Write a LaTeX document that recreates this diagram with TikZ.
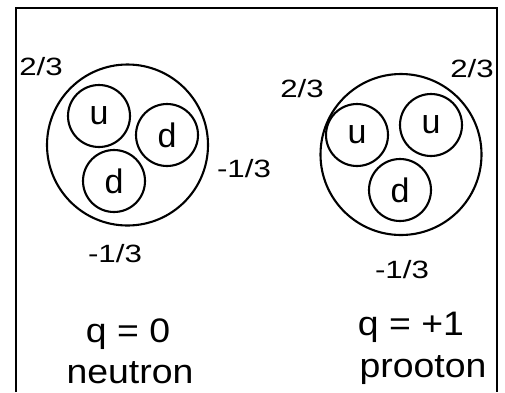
\documentclass[tikz,border=0pt]{standalone}
\usepackage{fontspec}
\setmainfont{Liberation Sans}
\begin{document}
\begin{tikzpicture}[x=1pt,y=-1pt,line width=2.1pt,
    quark/.style={circle,draw,inner sep=0pt,minimum size=62pt,font=\fontsize{34}{34}\selectfont},
    hadron/.style={circle,draw,inner sep=0pt,minimum size=161pt},
    charge/.style={font=\fontsize{25}{25}\selectfont,xscale=1.25,anchor=base},
    tag/.style={font=\fontsize{34}{34}\selectfont,xscale=1.1,anchor=base}]
    \useasboundingbox (0,0) rectangle (505,392);
    \draw (16,392) -- (16,8) -- (497,8) -- (497,392);
    % neutron
    \node[hadron] (neu) at (127.5,145) {};
    \node[quark] (nu) at (99,116) {u};
    \node[quark] (nd1) at (167,135) {d};
    \node[quark] (nd2) at (114,181) {d};
    \node[charge] (nq1) at (41,75) {2/3};
    \node[charge] (nq2) at (244,177) {-1/3};
    \node[charge] (nq3) at (115,262) {-1/3};
    \node[tag] (nsum) at (128,342) {q = 0};
    \node[tag] (nname) at (130,383) {neutron};
    % proton
    \node[hadron] (pro) at (401,154.5) {};
    \node[quark] (pu1) at (357,135) {u};
    \node[quark] (pu2) at (431,125) {u};
    \node[quark] (pd) at (400,190) {d};
    \node[charge] (pq1) at (302,97) {2/3};
    \node[charge] (pq2) at (472,77) {2/3};
    \node[charge] (pq3) at (402,278) {-1/3};
    \node[tag] (psum) at (411,335) {q = +1};
    \node[tag] (pname) at (423,377) {prooton};
\end{tikzpicture}
\end{document}
